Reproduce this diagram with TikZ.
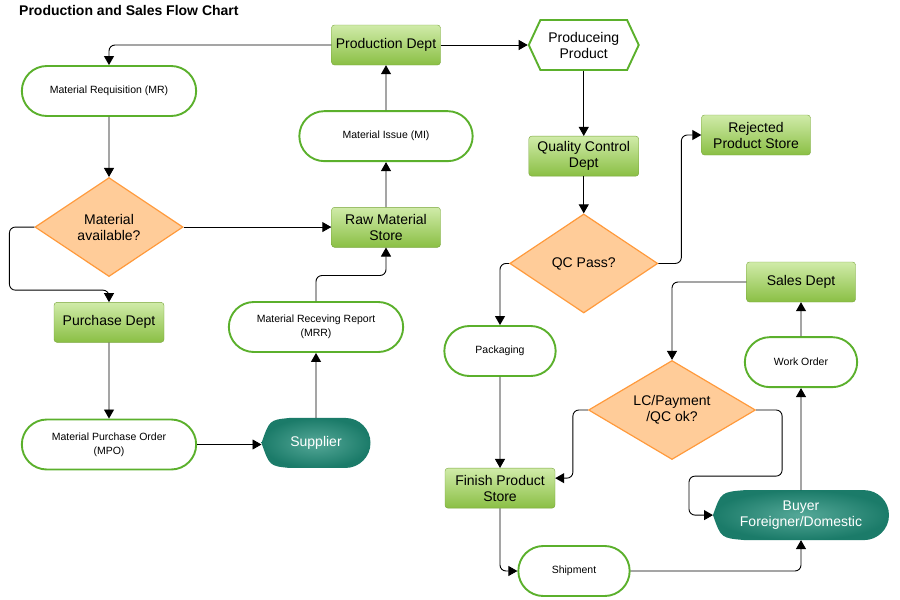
\documentclass[tikz,border=0pt]{standalone}
\usepackage{fontspec}
\setmainfont{Liberation Sans}
\usetikzlibrary{positioning,arrows.meta,shapes.geometric,shapes.misc,shapes.symbols,backgrounds}

\definecolor{boxtop}{HTML}{D0EBA9}
\definecolor{boxbot}{HTML}{8ABF44}
\definecolor{boxline}{HTML}{79A53B}
\definecolor{termline}{HTML}{5BB02C}
\definecolor{decfill}{HTML}{FFCC99}
\definecolor{decline}{HTML}{FF9A3C}
\definecolor{tealout}{HTML}{1B7B69}
\definecolor{tealin}{HTML}{55A898}

\newcommand{\bigtxt}{\fontsize{14pt}{16pt}\selectfont}
\newcommand{\smalltxt}{\fontsize{10.5pt}{14pt}\selectfont}

\begin{document}
\begin{tikzpicture}[
  x=1pt, y=1pt,
  dept/.style={draw=boxline, top color=boxtop, bottom color=boxbot, rounded corners=3pt, minimum width=109pt, minimum height=40pt, align=center, inner sep=2pt, font=\bigtxt},
  term/.style={rounded rectangle, draw=termline, line width=1.9pt, fill=white, minimum width=181pt, minimum height=50pt, align=center, font=\smalltxt},
  decide/.style={diamond, draw=decline, line width=1.2pt, fill=decfill, aspect=1.5, minimum width=148pt, minimum height=99pt, inner sep=0pt, align=center, font=\bigtxt},
  party/.style={minimum height=50pt, outer sep=0pt, text=white, align=center, font=\bigtxt},
  hexa/.style={signal, signal to=west and east, signal pointer angle=130, draw=termline, line width=1.9pt, fill=white, minimum width=110pt, minimum height=50pt, align=center, inner sep=2pt, font=\bigtxt},
  arr/.style={-{Triangle[length=9pt,width=10pt]}, line width=0.9pt, rounded corners=6pt}
]
  \useasboundingbox (0,0) rectangle (900,-600);
  \node[anchor=west, inner sep=0pt, font=\bfseries\fontsize{14pt}{16pt}\selectfont] (title) at (19,-10) {Production and Sales Flow Chart};

  % production column
  \node[dept] (pd) at (386,-45) {Production Dept};
  \node[term, minimum width=180pt, below=45pt of pd] (mi) {Material Issue (MI)};
  \node[dept, below=45pt of mi] (rms) {Raw Material\\Store};
  \node[term] (mrr) at (316,-327) {Material Receving Report\\(MRR)};
  \node[party, minimum width=109pt, below=65pt of mrr] (sup) {Supplier};

  % material column
  \node[term] (mr) at (109,-91) {Material Requisition (MR)};
  \node[decide, below=60pt of mr] (ma) {Material\\available?};
  \node[dept, minimum width=110pt, below=25pt of ma] (pur) {Purchase Dept};
  \node[term, below=76pt of pur] (mpo) {Material Purchase Order\\(MPO)};

  % product column
  \node[hexa, right=87pt of pd] (prod) {Produceing\\Product};
  \node[dept, minimum width=110pt, below=65pt of prod] (qcd) {Quality Control\\Dept};
  \node[decide, below=37pt of qcd] (qc) {QC Pass?};
  \node[dept] (rej) at (756,-135) {Rejected\\Product Store};
  \node[term, minimum width=118pt] (pack) at (500,-351) {Packaging};
  \node[dept, minimum width=110pt, below=91pt of pack] (fps) {Finish Product\\Store};
  \node[term, minimum width=118pt] (ship) at (574,-571) {Shipment};

  % sales column
  \node[dept] (sales) at (801,-282) {Sales Dept};
  \node[term, minimum width=119pt, below=34pt of sales] (wo) {Work Order};
  \node[party, minimum width=176pt, below=102pt of wo] (buy) {Buyer\\Foreigner/Domestic};
  \node[decide, minimum width=167pt] (lc) at (672,-410) {LC/Payment\\/QC ok?};

  \begin{pgfonlayer}{background}
    \shade[inner color=tealin, outer color=tealout] (sup.west) .. controls ([xshift=8pt,yshift=-2pt]sup.north west) .. ([xshift=28pt]sup.north west) -- ([xshift=-25pt]sup.north east) arc[start angle=90, end angle=-90, radius=25pt] -- ([xshift=28pt]sup.south west) .. controls ([xshift=8pt,yshift=2pt]sup.south west) .. (sup.west) -- cycle;
    \shade[inner color=tealin, outer color=tealout] (buy.west) .. controls ([xshift=8pt,yshift=-2pt]buy.north west) .. ([xshift=32pt]buy.north west) -- ([xshift=-25pt]buy.north east) arc[start angle=90, end angle=-90, radius=25pt] -- ([xshift=32pt]buy.south west) .. controls ([xshift=8pt,yshift=2pt]buy.south west) .. (buy.west) -- cycle;
  \end{pgfonlayer}

  \draw[arr] (pd.west) -| (mr.north);
  \draw[arr] (pd.east) -- (prod.west);
  \draw[arr] (prod.south) -- (qcd.north);
  \draw[arr] (mr) -- (ma);
  \draw[arr] (ma.east) -- (ma.east -| rms.west);
  \draw[arr] (ma.west) -- ++(-25,0) |- ([yshift=12pt]pur.north) -- (pur.north);
  \draw[arr] (rms) -- (mi);
  \draw[arr] (mi) -- (pd);
  \draw[arr] (mrr.north) |- ([yshift=-28pt]rms.south) -- (rms.south);
  \draw[arr] (sup) -- (mrr);
  \draw[arr] (pur) -- (mpo);
  \draw[arr] (mpo.east) -- (mpo.east -| sup.west);
  \draw[arr] (qcd) -- (qc);
  \draw[arr] (qc.east) -- ++(23,0) |- (rej.west);
  \draw[arr] (qc.west) -| (pack.north);
  \draw[arr] (pack) -- (fps);
  \draw[arr] (fps.south) |- (ship.west);
  \draw[arr] (ship.east) -| (buy.south);
  \draw[arr] (buy) -- (wo);
  \draw[arr] (wo) -- (sales);
  \draw[arr] (sales.west) -| (lc.north);
  \draw[arr] (lc.west) -- ++(-15,0) |- ([yshift=10pt]fps.east);
  \draw[arr] (lc.east) -- ++(26,0) |- ([xshift=-24pt,yshift=39pt]buy.west) |- (buy.west);
\end{tikzpicture}
\end{document}
